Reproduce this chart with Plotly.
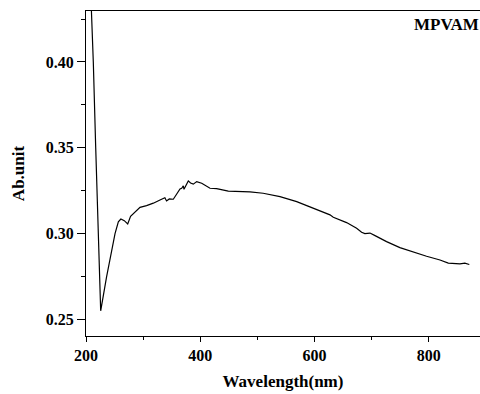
import plotly.graph_objects as go

wavelength = [205, 208, 212.8, 217, 221, 225.7, 236, 250.8, 256.6, 261, 267, 273, 278, 285.8, 294.5,
              306, 317.8, 329.5, 338, 341, 345.8, 352.8, 358.7, 364.5, 367.4, 370.3, 371.5, 379,
              383, 387.8, 393.7, 402.5, 417, 428.6, 449, 487, 510, 539.5, 568.7, 597.8, 627,
              632.8, 656, 673.6, 682.3, 688, 697, 705.8, 726, 749.3, 772.7, 796, 819.5, 834,
              854.4, 863, 870.8]
absorbance = [0.47, 0.445, 0.400, 0.350, 0.300, 0.255, 0.2748, 0.300, 0.3069, 0.3085, 0.3075, 0.3056,
              0.310, 0.3128, 0.3153, 0.3163, 0.3177, 0.3196, 0.3209, 0.319, 0.3202, 0.320, 0.3229,
              0.326, 0.3264, 0.3278, 0.3258, 0.3307, 0.3295, 0.3288, 0.3303, 0.3293, 0.3264, 0.3262,
              0.3247, 0.3243, 0.3235, 0.3215, 0.3186, 0.3148, 0.3109, 0.3095, 0.3064, 0.3031,
              0.3008, 0.300, 0.3003, 0.2988, 0.2953, 0.2918, 0.2891, 0.2868, 0.2846, 0.2828,
              0.2823, 0.2828, 0.282]

x_ticks = [200, 400, 600, 800]
y_ticks = [0.25, 0.30, 0.35, 0.40]

font_family = "Liberation Serif"

fig = go.Figure()
fig.add_trace(go.Scatter(x=wavelength, y=absorbance, mode="lines",
                         line=dict(color="black", width=1.2), showlegend=False))

fig.update_layout(
    width=480, height=394,
    margin=dict(l=86, r=0, t=11, b=58, autoexpand=False),
    paper_bgcolor="white", plot_bgcolor="white",
    font=dict(family=font_family, color="black", size=16),
    xaxis=dict(
        range=[200, 889.5], tickvals=x_ticks, ticktext=[str(v) for v in x_ticks],
        automargin=False,
        showgrid=False, zeroline=False, showline=True, linecolor="black", linewidth=1.2,
        mirror=True, ticks="outside", ticklen=5, tickwidth=1.2, tickcolor="black",
        minor=dict(tickvals=[300, 500, 700], ticks="outside", ticklen=3, tickwidth=1.2, tickcolor="black"),
        tickfont=dict(family=font_family, size=16, color="black", weight="bold"),
        title=dict(text="<b>Wavelength(nm)</b>", font=dict(family=font_family, size=17), standoff=11),
    ),
    yaxis=dict(
        range=[0.2403, 0.4297], tickvals=y_ticks, ticktext=["%.2f" % v for v in y_ticks],
        automargin=False,
        showgrid=False, zeroline=False, showline=True, linecolor="black", linewidth=1.2,
        mirror=False, ticks="outside", ticklen=8, tickwidth=1.2, tickcolor="black",
        minor=dict(tickvals=[0.275, 0.325, 0.375, 0.425], ticks="outside", ticklen=4, tickwidth=1.2, tickcolor="black"),
        tickfont=dict(family=font_family, size=16, color="black", weight="bold"),
        title=dict(text="<b>Ab.unit</b>", font=dict(family=font_family, size=17), standoff=16),
    ),
    annotations=[dict(text="<b>MPVAM</b>", xref="paper", yref="paper", x=1.0, y=0.957,
                      xanchor="right", yanchor="middle", showarrow=False, borderpad=0,
                      font=dict(family=font_family, size=17, color="black"))],
)

fig.write_html("out.html", config={"displayModeBar": False},
               post_script="document.body.style.margin='0';document.body.style.overflow='hidden';")
